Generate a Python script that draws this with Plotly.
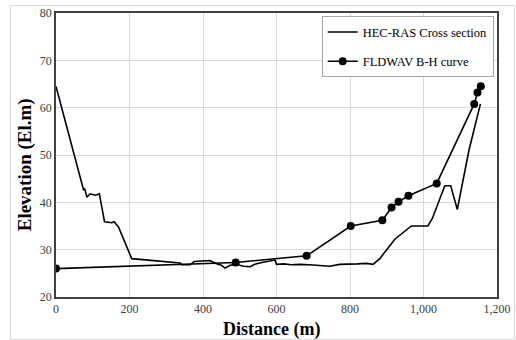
import plotly.graph_objects as go

# HEC-RAS cross section (distance m, elevation El.m)
hec_x = [0, 75, 78, 84, 93, 107, 112, 118, 132, 152, 158, 170, 206, 250, 274, 300, 320, 338, 342,
         365, 376, 400, 419, 435, 450, 460, 474, 490, 510, 528, 541, 560, 580, 596, 600, 620, 640,
         664, 690, 720, 745, 772, 800, 820, 845, 863, 881, 922, 967, 1012, 1024, 1058, 1074, 1092, 1124, 1155]
hec_y = [64.5, 42.6, 42.9, 41.1, 41.8, 41.5, 41.6, 41.8, 35.9, 35.7, 35.9, 34.8, 28.1, 27.8, 27.6, 27.4, 27.3, 27.2, 26.8,
         26.8, 27.5, 27.6, 27.7, 27.1, 26.7, 26.1, 26.7, 26.9, 26.5, 26.4, 26.9, 27.3, 27.6, 27.8, 26.9, 27.0, 26.8,
         26.9, 26.8, 26.7, 26.5, 26.9, 26.9, 27.0, 27.1, 26.9, 28.1, 32.2, 35.0, 35.0, 36.6, 43.5, 43.5, 38.5, 51.1, 60.8]

# FLDWAV B-H curve
fld_x = [0, 489, 682, 802, 888, 913, 932, 959, 1036, 1138, 1147, 1156]
fld_y = [26.0, 27.3, 28.7, 35.0, 36.2, 38.9, 40.1, 41.4, 44.0, 60.8, 63.2, 64.5]

x_ticks = [0, 200, 400, 600, 800, 1000, 1200]
x_tick_text = ["0", "200", "400", "600", "800", "1,000", "1,200"]
y_ticks = [20, 30, 40, 50, 60, 70, 80]

serif = "Liberation Serif"

fig = go.Figure()
fig.add_trace(go.Scatter(x=hec_x, y=hec_y, mode="lines", name="HEC-RAS Cross section",
                         line=dict(color="black", width=1.6), legendgroup="a"))
fig.add_trace(go.Scatter(x=fld_x, y=fld_y, mode="lines+markers", name="FLDWAV B-H curve",
                         line=dict(color="black", width=1.6), marker=dict(color="black", size=8),
                         legendgroup="b"))

fig.update_layout(
    width=516, height=340,
    margin=dict(l=56, r=19, t=13, b=43),
    paper_bgcolor="white", plot_bgcolor="white",
    font=dict(family=serif, color="#404040", size=12),
    showlegend=True,
    legend=dict(x=0.9925, y=0.988, xanchor="right", yanchor="top",
                bgcolor="white", bordercolor="#a6a6a6", borderwidth=1,
                font=dict(family=serif, size=12.5, color="black"),
                traceorder="grouped", tracegroupgap=10, itemwidth=30),
    xaxis=dict(range=[0, 1200], tickvals=x_ticks, ticktext=x_tick_text,
               showgrid=True, gridcolor="#d9d9d9", gridwidth=1,
               showline=True, linecolor="#404040", linewidth=1.5, mirror=True,
               ticks="", zeroline=False, automargin=False,
               tickfont=dict(family=serif, size=12, color="#404040")),
    yaxis=dict(range=[20, 80], tickvals=y_ticks,
               showgrid=True, gridcolor="#d9d9d9", gridwidth=1,
               showline=True, linecolor="#404040", linewidth=1.5, mirror=True,
               ticks="", zeroline=False, automargin=False,
               tickfont=dict(family=serif, size=12, color="#404040")),
    annotations=[
        dict(text="<b>Distance (m)</b>", xref="paper", yref="paper", x=0.489, y=-0.114,
             xanchor="center", yanchor="middle", showarrow=False,
             font=dict(family=serif, size=18, color="black")),
        dict(text="<b>Elevation (El.m)</b>", xref="paper", yref="paper", x=-0.0695, y=0.465,
             xanchor="center", yanchor="middle", showarrow=False, textangle=-90,
             font=dict(family=serif, size=19, color="black")),
    ],
    shapes=[dict(type="rect", xref="paper", yref="paper",
                 x0=-0.1035, x1=1.04, y0=-0.149, y1=1.026,
                 line=dict(color="#d9d9d9", width=1), layer="below")],
)

fig.write_html("out.html")
